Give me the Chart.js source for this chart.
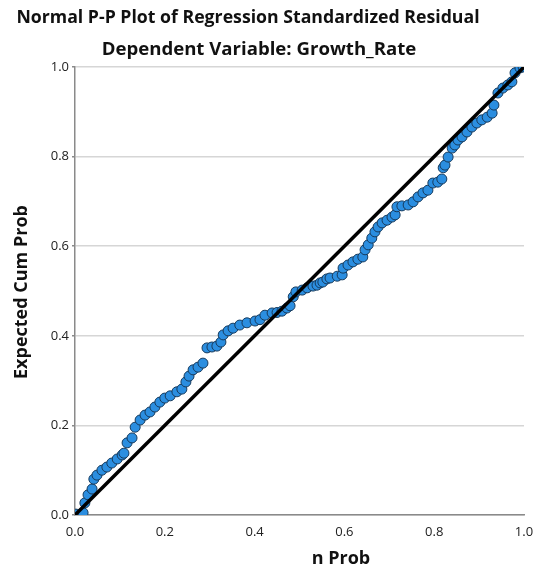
<!DOCTYPE html>
<html>
<head>
<meta charset="utf-8">
<script src="https://cdn.jsdelivr.net/npm/chart.js@4/dist/chart.umd.min.js"></script>
<style>
  html, body { margin: 0; padding: 0; background: #fff; }
</style>
</head>
<body>
<canvas id="pp" width="556" height="579"></canvas>
<script>
// titulos e eixos
var titulo = 'Normal P-P Plot of Regression Standardized Residual';
var subtitulo = 'Dependent Variable: Growth_Rate';
var rotuloX = 'n Prob';
var rotuloY = 'Expected Cum Prob';
var marcas = [0, 0.2, 0.4, 0.6, 0.8, 1.0];

// probabilidades
var observada = [0.002, 0.018, 0.022, 0.029, 0.038, 0.042, 0.049, 0.060, 0.071, 0.082,
  0.094, 0.105, 0.109, 0.116, 0.127, 0.134, 0.145, 0.156, 0.167, 0.178,
  0.189, 0.200, 0.212, 0.227, 0.238, 0.247, 0.254, 0.263, 0.274, 0.285,
  0.294, 0.305, 0.316, 0.325, 0.330, 0.341, 0.352, 0.367, 0.383, 0.401,
  0.412, 0.423, 0.439, 0.450, 0.461, 0.472, 0.479, 0.486, 0.492, 0.506,
  0.517, 0.530, 0.539, 0.546, 0.552, 0.561, 0.568, 0.584, 0.595, 0.597,
  0.608, 0.619, 0.630, 0.641, 0.646, 0.653, 0.661, 0.668, 0.675, 0.684,
  0.695, 0.706, 0.713, 0.717, 0.728, 0.742, 0.753, 0.764, 0.775, 0.786,
  0.797, 0.808, 0.817, 0.820, 0.824, 0.831, 0.840, 0.846, 0.853, 0.862,
  0.873, 0.884, 0.895, 0.906, 0.918, 0.929, 0.933, 0.942, 0.953, 0.964,
  0.973, 0.980, 0.991, 0.998];
var esperada = [0.002, 0.005, 0.027, 0.045, 0.058, 0.080, 0.089, 0.100, 0.107, 0.116,
  0.125, 0.134, 0.138, 0.161, 0.172, 0.196, 0.212, 0.223, 0.230, 0.241,
  0.252, 0.261, 0.266, 0.275, 0.281, 0.297, 0.310, 0.324, 0.330, 0.339,
  0.373, 0.375, 0.377, 0.386, 0.402, 0.411, 0.417, 0.424, 0.429, 0.433,
  0.436, 0.446, 0.451, 0.452, 0.455, 0.462, 0.467, 0.487, 0.498, 0.502,
  0.507, 0.511, 0.513, 0.518, 0.520, 0.527, 0.529, 0.533, 0.536, 0.551,
  0.558, 0.565, 0.571, 0.576, 0.592, 0.603, 0.618, 0.632, 0.643, 0.652,
  0.658, 0.665, 0.670, 0.688, 0.690, 0.692, 0.699, 0.710, 0.719, 0.725,
  0.741, 0.743, 0.750, 0.775, 0.781, 0.799, 0.819, 0.826, 0.837, 0.844,
  0.855, 0.866, 0.875, 0.882, 0.888, 0.897, 0.915, 0.942, 0.953, 0.960,
  0.967, 0.987, 0.998, 1.000];
var diagonal = [0, 1];

var pontos = observada.map(function(x, i) { return { x: x, y: esperada[i] }; });
var linha = diagonal.map(function(v) { return { x: v, y: v }; });

// textos desenhados a mao (titulos e rotulos dos eixos)
var textos = {
  id: 'textos',
  afterDraw: function(chart) {
    var c = chart.ctx;
    c.save();
    c.fillStyle = '#111';
    c.textBaseline = 'middle';
    c.textAlign = 'center';
    c.font = 'bold 17.7px "Open Sans", sans-serif';
    c.fillText(titulo, 248, 18);
    c.font = 'bold 18.6px "Open Sans", sans-serif';
    c.fillText(subtitulo, 259, 50);
    c.font = 'bold 18px "Open Sans", sans-serif';
    c.fillText(rotuloX, 341, 559);
    c.translate(22, 292);
    c.rotate(-Math.PI / 2);
    c.fillText(rotuloY, 0, 0);
    c.restore();
  }
};

var ctx = document.getElementById('pp').getContext('2d');
var grafico = new Chart(ctx, {
  type: 'scatter',
  data: {
    datasets: [{
      type: 'line',
      data: linha,
      borderColor: '#000',
      borderWidth: 3.5,
      pointRadius: 0,
      order: 0
    }, {
      data: pontos,
      backgroundColor: '#2b8ee0',
      borderColor: '#163a5c',
      borderWidth: 1,
      pointRadius: 5,
      order: 1
    }]
  },
  options: {
    responsive: false,
    animation: false,
    layout: { padding: { left: 0, top: 67, right: 32, bottom: 0 } },
    plugins: { legend: { display: false }, tooltip: { enabled: false } },
    scales: {
      x: {
        min: 0, max: 1,
        afterBuildTicks: function(s) { s.ticks = marcas.map(function(v) { return { value: v }; }); },
        afterFit: function(s) { s.height = 64; },
        grid: { display: false },
        border: { display: true, color: '#8a8a8a', width: 1.5 },
        ticks: { padding: 1, color: '#222', font: { size: 13, family: 'Open Sans' },
          callback: function(v) { return v.toFixed(1); } }
      },
      y: {
        min: 0, max: 1,
        afterBuildTicks: function(s) { s.ticks = marcas.map(function(v) { return { value: v }; }); },
        afterFit: function(s) { s.width = 75; },
        grid: { color: '#d6d6d6', lineWidth: 1.5, tickLength: 3, tickColor: '#8a8a8a' },
        border: { display: true, color: '#8a8a8a', width: 1.5 },
        ticks: { padding: 3, color: '#222', font: { size: 13, family: 'Open Sans' },
          callback: function(v) { return v.toFixed(1); } }
      }
    }
  },
  plugins: [textos]
});
</script>
</body>
</html>
